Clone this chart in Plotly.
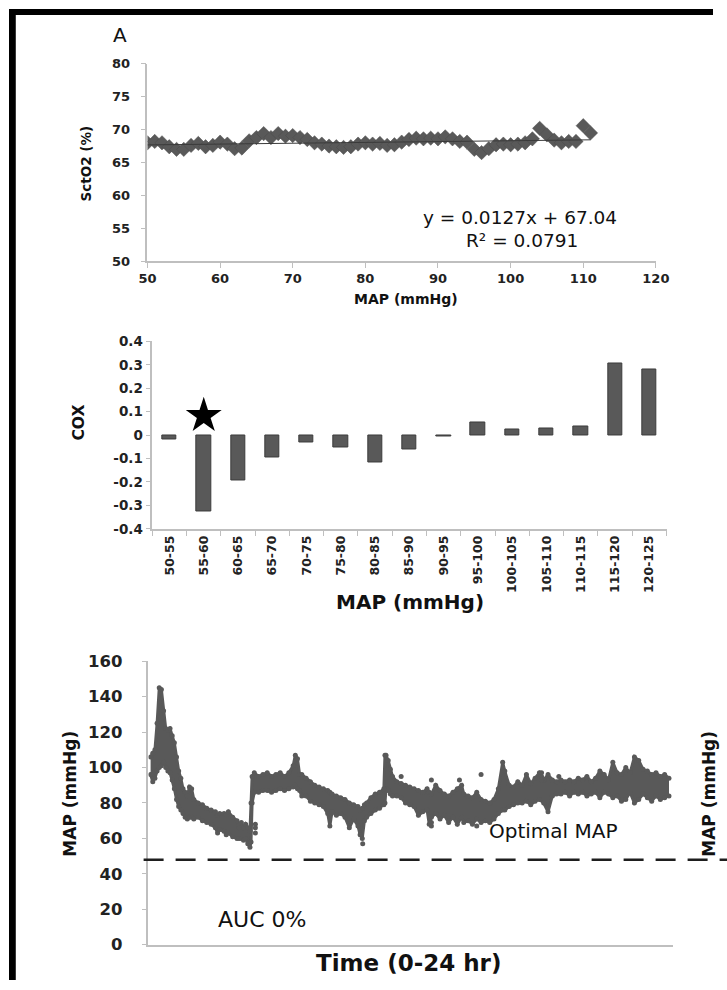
import plotly.graph_objects as go

W, H = 727, 990

# ---------------- Panel A: SctO2 vs MAP ----------------
map_values = list(range(50, 112))
scto2_values = [
    68.0, 68.2, 68.0, 67.4, 67.0, 67.0, 67.6, 67.9, 67.4, 67.6,
    68.1, 67.8, 67.1, 67.2, 68.3, 68.8, 69.4, 68.8, 69.4, 69.0,
    69.1, 68.8, 68.5, 68.0, 67.8, 67.5, 67.4, 67.3, 67.4, 67.8,
    68.0, 67.8, 67.9, 67.6, 67.7, 68.1, 68.5, 68.7, 68.6, 68.7,
    68.6, 68.9, 68.6, 68.2, 68.1, 67.0, 66.5, 67.1, 67.7, 67.8,
    67.7, 67.8, 68.0, 68.6, 70.2, 69.2, 68.4, 68.0, 68.2, 68.2,
    70.6, 69.5,
]
fit_slope = 0.0127
fit_intercept = 67.04
fit_r2 = 0.0791

# ---------------- COX by MAP bin ----------------
map_bins = ["50-55", "55-60", "60-65", "65-70", "70-75", "75-80", "80-85",
            "85-90", "90-95", "95-100", "100-105", "105-110", "110-115",
            "115-120", "120-125"]
cox_values = [-0.017, -0.324, -0.194, -0.095, -0.033, -0.053, -0.118,
              -0.060, -0.006, 0.053, 0.025, 0.029, 0.039, 0.305, 0.280]
cox_ticks = [-0.4, -0.3, -0.2, -0.1, 0, 0.1, 0.2, 0.3, 0.4]
cox_tick_text = ["-0.4", "-0.3", "-0.2", "-0.1", "0", "0.1", "0.2", "0.3", "0.4"]
star_bin = "55-60"
star_level = 0.083

# ---------------- MAP over 24 h ----------------
time_hr = [0.00, 0.10, 0.20, 0.30, 0.40, 0.50, 0.60, 0.70, 0.80, 0.90,
           1.00, 1.10, 1.20, 1.30, 1.40, 1.50, 1.60, 1.70, 1.80, 1.90,
           2.00, 2.20, 2.40, 2.60, 2.80, 3.00, 3.10, 3.20, 3.40, 3.50,
           3.60, 3.80, 4.00, 4.10, 4.20, 4.30, 4.40, 4.50, 4.60, 4.65,
           4.70, 4.80, 5.00, 5.20, 5.40, 5.60, 5.80, 6.00, 6.20, 6.40,
           6.60, 6.70, 6.80, 6.90, 7.00, 7.20, 7.40, 7.60, 7.80, 8.00,
           8.20, 8.30, 8.40, 8.60, 8.80, 9.00, 9.20, 9.40, 9.60, 9.70,
           9.80, 9.90, 10.00, 10.20, 10.40, 10.60, 10.80, 10.85, 10.90, 11.00,
           11.10, 11.20, 11.40, 11.60, 11.80, 12.00, 12.20, 12.40, 12.60, 12.80,
           12.90, 13.00, 13.20, 13.40, 13.60, 13.80, 14.00, 14.20, 14.40, 14.50,
           14.70, 14.90, 15.10, 15.30, 15.50, 15.70, 15.90, 16.10, 16.30, 16.40,
           16.60, 16.80, 17.00, 17.20, 17.40, 17.60, 17.80, 18.00, 18.20, 18.40,
           18.60, 18.80, 19.00, 19.20, 19.40, 19.60, 19.80, 20.00, 20.20, 20.40,
           20.60, 20.80, 21.00, 21.20, 21.40, 21.60, 21.80, 22.00, 22.20, 22.40,
           22.60, 22.80, 23.00, 23.20, 23.40, 23.60, 23.80, 24.00]
map_low = [96, 92, 94, 98, 100, 101, 103, 100, 98, 97,
           93, 88, 82, 78, 76, 74, 72, 71, 72, 72,
           71, 72, 70, 69, 68, 66, 63, 65, 64, 62,
           63, 61, 60, 60, 60, 59, 60, 57, 55, 58,
           80, 86, 86, 87, 87, 86, 87, 88, 87, 88,
           89, 90, 88, 87, 84, 84, 81, 80, 79, 78,
           74, 67, 75, 73, 74, 72, 66, 71, 67, 62,
           60, 70, 72, 74, 76, 77, 79, 80, 88, 87,
           85, 84, 84, 83, 80, 79, 78, 73, 75, 76,
           68, 72, 74, 71, 73, 69, 72, 68, 72, 69,
           70, 68, 71, 69, 70, 69, 71, 74, 76, 76,
           78, 79, 80, 80, 81, 79, 81, 82, 80, 75,
           84, 85, 85, 86, 84, 86, 85, 86, 84, 85,
           86, 83, 86, 85, 83, 84, 81, 82, 86, 80,
           82, 85, 83, 81, 84, 82, 83, 84]
map_high = [106, 108, 110, 125, 145, 144, 132, 122, 121, 122,
            118, 114, 106, 98, 94, 88, 86, 84, 89, 88,
            82, 80, 79, 77, 76, 75, 73, 74, 74, 73,
            75, 72, 70, 66, 69, 66, 68, 66, 64, 80,
            95, 97, 95, 96, 97, 95, 96, 97, 95, 97,
            101, 107, 105, 96, 96, 94, 92, 90, 89, 88,
            87, 86, 85, 84, 83, 82, 80, 79, 78, 76,
            77, 79, 80, 83, 85, 86, 88, 107, 107, 104,
            99, 95, 92, 91, 90, 89, 88, 87, 86, 88,
            86, 85, 90, 87, 85, 84, 86, 88, 90, 85,
            84, 83, 86, 82, 81, 80, 82, 88, 103, 98,
            90, 89, 92, 90, 96, 91, 94, 97, 93, 96,
            93, 92, 93, 92, 93, 92, 94, 93, 95, 92,
            94, 98, 96, 93, 103, 97, 96, 100, 97, 106,
            104, 99, 98, 96, 97, 95, 96, 94]
stray_time = [4.85, 4.85, 4.85, 9.82, 11.6, 13.0, 13.0, 13.0, 14.3, 15.1,
              15.3, 18.1, 18.1, 18.1, 18.9]
stray_map = [68, 66, 63, 57, 95, 93, 69, 67, 93, 67,
             96, 97, 95, 93, 95]
optimal_map = 48

DARK = "#595959"
AXIS = "#bfbfbf"
FONT = "DejaVu Sans"


def px(x):
    return x / W


def py(y):
    return 1 - y / H


fig = go.Figure()

# scatter + trend line
fig.add_trace(go.Scatter(
    x=map_values, y=scto2_values, mode="markers",
    marker=dict(symbol="diamond", size=11, color=DARK,
                line=dict(width=0.5, color="#4a4a4a")),
    xaxis="x", yaxis="y", showlegend=False))
fit_x = [map_values[0], map_values[-1]]
fig.add_trace(go.Scatter(
    x=fit_x, y=[fit_slope * v + fit_intercept for v in fit_x], mode="lines",
    line=dict(color="#3a3a3a", width=1),
    xaxis="x", yaxis="y", showlegend=False))

# COX bars
fig.add_trace(go.Bar(
    x=map_bins, y=cox_values, width=0.42,
    marker=dict(color=DARK, line=dict(color="#3c3c3c", width=1)),
    xaxis="x2", yaxis="y2", showlegend=False))
fig.add_trace(go.Scatter(
    x=[star_bin], y=[star_level], mode="markers",
    marker=dict(symbol="star", size=27, color="black"),
    xaxis="x2", yaxis="y2", showlegend=False))

# MAP band over time: lower and upper envelopes with the space between filled
band_edge = dict(color=DARK, width=3)
fig.add_trace(go.Scatter(
    x=time_hr, y=map_low, mode="lines+markers",
    line=band_edge, marker=dict(size=5, color=DARK),
    xaxis="x3", yaxis="y3", showlegend=False))
fig.add_trace(go.Scatter(
    x=time_hr, y=map_high, mode="lines+markers", fill="tonexty",
    fillcolor=DARK, line=band_edge, marker=dict(size=5, color=DARK),
    xaxis="x3", yaxis="y3", showlegend=False))
fig.add_trace(go.Scatter(
    x=stray_time, y=stray_map, mode="markers",
    marker=dict(size=5, color=DARK),
    xaxis="x3", yaxis="y3", showlegend=False))

axis_common = dict(showline=True, linecolor=AXIS, linewidth=1.5,
                   showgrid=False, zeroline=False, ticks="outside",
                   tickcolor=AXIS, ticklen=5, tickwidth=1.2)
tick_font = dict(family=FONT, size=13, color="#222222", weight="bold")

fig.update_layout(
    width=W, height=H, margin=dict(l=0, r=0, t=0, b=0),
    paper_bgcolor="white", plot_bgcolor="white",
    xaxis=dict(domain=[px(143), px(668)], range=[50, 120], dtick=10,
               anchor="y", tickfont=tick_font, **axis_common),
    yaxis=dict(domain=[py(257), py(56)], range=[50, 80], dtick=5,
               anchor="x", tickfont=tick_font, ticklabelstandoff=8,
               **axis_common),
    xaxis2=dict(domain=[px(148), px(679)], range=[-0.5, 14.5],
                type="category", anchor="y2", tickson="boundaries",
                tickangle=-90, tickfont=dict(tick_font, size=12.5),
                **axis_common),
    yaxis2=dict(domain=[py(530), py(339)], range=[-0.4, 0.4],
                tickvals=cox_ticks, ticktext=cox_tick_text,
                anchor="x2", tickfont=dict(tick_font, size=13.5),
                **axis_common),
    xaxis3=dict(domain=[px(144), px(686)], range=[-0.1, 24.2],
                anchor="y3", showticklabels=False,
                **dict(axis_common, ticks="")),
    yaxis3=dict(domain=[py(954), py(665)], range=[0, 160], dtick=20,
                anchor="x3", tickfont=dict(tick_font, size=16.5),
                ticklabelstandoff=16, **axis_common),
    bargap=0,
)

# optimal MAP reference line, running out past the plot edge
fig.add_shape(type="line", xref="paper", yref="y3",
              x0=px(139), x1=1.02, y0=optimal_map, y1=optimal_map,
              line=dict(color="#1e1e1e", width=2.5, dash="20px,12px"))

# black frame strips along the top and left edges
fig.add_shape(type="rect", xref="paper", yref="paper",
              x0=0, x1=px(7), y0=0, y1=1, line=dict(width=0),
              fillcolor="black", layer="above")
fig.add_shape(type="rect", xref="paper", yref="paper",
              x0=0, x1=1, y0=py(6), y1=1, line=dict(width=0),
              fillcolor="black", layer="above")


def label(text, x, y, size, bold=False, angle=0, color="#111111"):
    fig.add_annotation(
        text=text, x=px(x), y=py(y), xref="paper", yref="paper",
        showarrow=False, textangle=angle, xanchor="center", yanchor="middle",
        font=dict(family=FONT, size=size, color=color,
                  weight="bold" if bold else "normal"))


label("A", 115, 27, 20)
label("SctO2 (%)", 80, 157, 13.5, bold=True, angle=-90)
label("MAP (mmHg)", 410, 296, 14, bold=True)
label(f"y = {fit_slope}x + {fit_intercept}", 528, 213, 18.5)
label(f"R² = {fit_r2}", 530, 236, 18.5)

label("COX", 72, 422, 15.5, bold=True, angle=-90)
label("MAP (mmHg)", 414, 605, 20, bold=True)

label("MAP (mmHg)", 63, 800, 17, bold=True, angle=-90)
label("MAP (mmHg)", 723, 800, 17, bold=True, angle=-90)
label("Optimal MAP", 562, 838, 20)
label("AUC 0%", 261, 928, 22)
label("Time (0-24 hr)", 413, 973, 23, bold=True)

fig.write_html("out.html")
